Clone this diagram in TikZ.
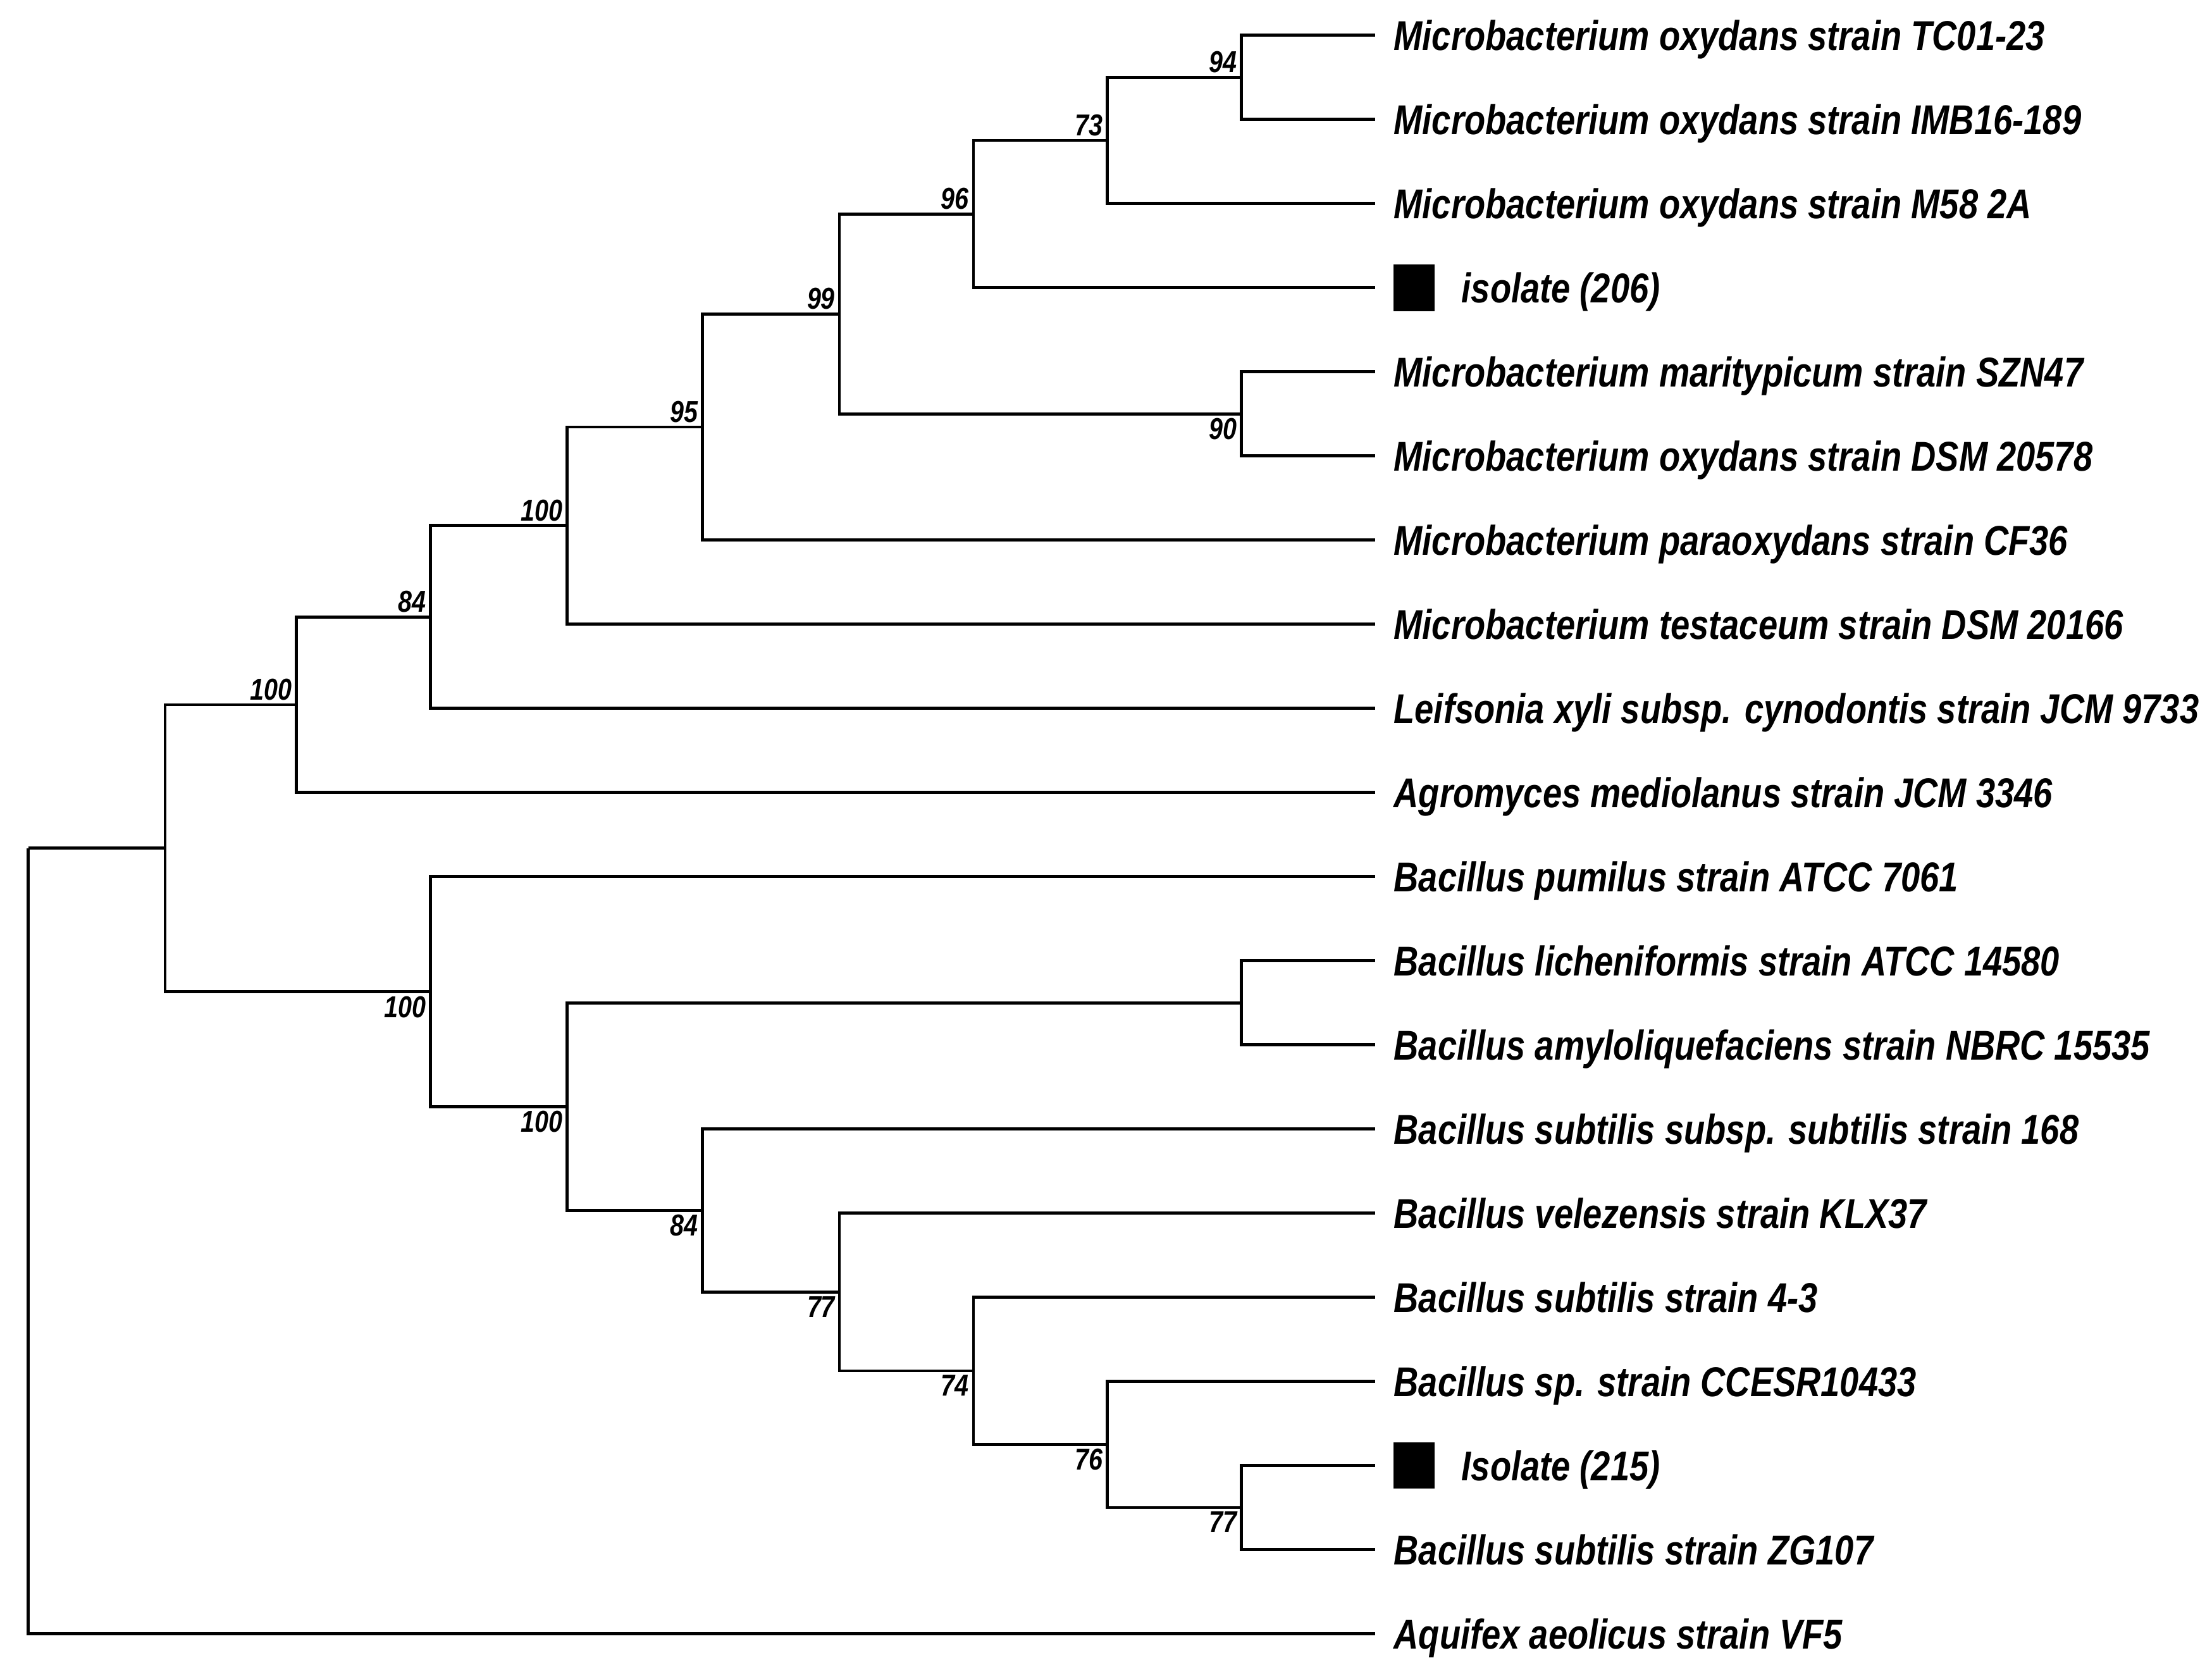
\documentclass[tikz,border=0pt]{standalone}
\usepackage{fontspec}
\setmainfont{Liberation Sans}[FakeStretch=0.825]
\usetikzlibrary{positioning}

\begin{document}
\begin{tikzpicture}[x=0.1mm, y=-0.1mm, line width=0.6pt,
    taxon/.style={anchor=base west, inner sep=0pt, yshift=-3pt, font=\fontsize{8.4}{10}\selectfont\bfseries\itshape},
    boot/.style={inner sep=0.6pt, font=\fontsize{6.1}{7}\selectfont\bfseries\itshape},
    isobox/.style={fill, minimum width=2.9mm, minimum height=3.3mm, inner sep=0pt}]
    \useasboundingbox (0,0) rectangle (1568,1185);

    % define leaf ends
    \foreach \i in {1,...,20}
        \coordinate (l\i) at (975, {25+59.63*(\i-1)});

    % define inner nodes
    \coordinate (n94) at (880, 54.8);
    \coordinate (n73) at (785, 99.5);
    \coordinate (n96) at (690, 151.7);
    \coordinate (n90) at (880, 293.4);
    \coordinate (n99) at (595, 222.5);
    \coordinate (n95) at (498, 302.7);
    \coordinate (n100c) at (402, 372.5);
    \coordinate (n84a) at (305, 437.3);
    \coordinate (n100b) at (210, 499.5);
    \coordinate (nlic) at (880, 710.8);
    \coordinate (n77b) at (880, 1068.5);
    \coordinate (n76) at (785, 1023.8);
    \coordinate (n74) at (690, 971.6);
    \coordinate (n77a) at (595, 915.7);
    \coordinate (n84b) at (498, 858.0);
    \coordinate (n100e) at (402, 784.4);
    \coordinate (n100d) at (305, 702.9);
    \coordinate (n100a) at (117, 601.2);
    \coordinate (root) at (20, 601.2);

    % draw branches
    \foreach \p/\c in {n94/l1, n94/l2, n73/n94, n73/l3, n96/n73, n96/l4,
                       n90/l5, n90/l6, n99/n96, n99/n90, n95/n99, n95/l7,
                       n100c/n95, n100c/l8, n84a/n100c, n84a/l9, n100b/n84a, n100b/l10,
                       nlic/l12, nlic/l13, n77b/l18, n77b/l19, n76/l17, n76/n77b,
                       n74/l16, n74/n76, n77a/l15, n77a/n74, n84b/l14, n84b/n77a,
                       n100e/nlic, n100e/n84b, n100d/l11, n100d/n100e,
                       n100a/n100b, n100a/n100d, root/n100a, root/l20}
        \draw (\p) |- (\c);

    % taxon names
    \foreach \i/\name in {1/{Microbacterium oxydans strain TC01-23},
                          2/{Microbacterium oxydans strain IMB16-189},
                          3/{Microbacterium oxydans strain M58 2A},
                          5/{Microbacterium maritypicum strain SZN47},
                          6/{Microbacterium oxydans strain DSM 20578},
                          7/{Microbacterium paraoxydans strain CF36},
                          8/{Microbacterium testaceum strain DSM 20166},
                          9/{Leifsonia xyli subsp. cynodontis strain JCM 9733},
                          10/{Agromyces mediolanus strain JCM 3346},
                          11/{Bacillus pumilus strain ATCC 7061},
                          12/{Bacillus licheniformis strain ATCC 14580},
                          13/{Bacillus amyloliquefaciens strain NBRC 15535},
                          14/{Bacillus subtilis subsp. subtilis strain 168},
                          15/{Bacillus velezensis strain KLX37},
                          16/{Bacillus subtilis strain 4-3},
                          17/{Bacillus sp. strain CCESR10433},
                          19/{Bacillus subtilis strain ZG107},
                          20/{Aquifex aeolicus strain VF5}}
        \node[taxon] (t\i) at ([xshift=1.2mm]l\i) {\name};

    % isolates
    \node[isobox] (sq4) at ([xshift=2.75mm]l4) {};
    \node[right=1.7mm of sq4, taxon] (t4) {isolate (206)};
    \node[isobox] (sq18) at ([xshift=2.75mm]l18) {};
    \node[right=1.7mm of sq18, taxon] (t18) {Isolate (215)};

    % bootstrap values
    \node[boot, anchor=south east] (b94) at (n94) {94};
    \node[boot, anchor=south east] (b73) at (n73) {73};
    \node[boot, anchor=south east] (b96) at (n96) {96};
    \node[boot, anchor=south east] (b99) at (n99) {99};
    \node[boot, anchor=north east] (b90) at (n90) {90};
    \node[boot, anchor=south east] (b95) at (n95) {95};
    \node[boot, anchor=south east] (b100c) at (n100c) {100};
    \node[boot, anchor=south east] (b84a) at (n84a) {84};
    \node[boot, anchor=south east] (b100b) at (n100b) {100};
    \node[boot, anchor=north east] (b77b) at (n77b) {77};
    \node[boot, anchor=north east] (b76) at (n76) {76};
    \node[boot, anchor=north east] (b74) at (n74) {74};
    \node[boot, anchor=north east] (b77a) at (n77a) {77};
    \node[boot, anchor=north east] (b84b) at (n84b) {84};
    \node[boot, anchor=north east] (b100e) at (n100e) {100};
    \node[boot, anchor=north east] (b100d) at (n100d) {100};
\end{tikzpicture}
\end{document}
